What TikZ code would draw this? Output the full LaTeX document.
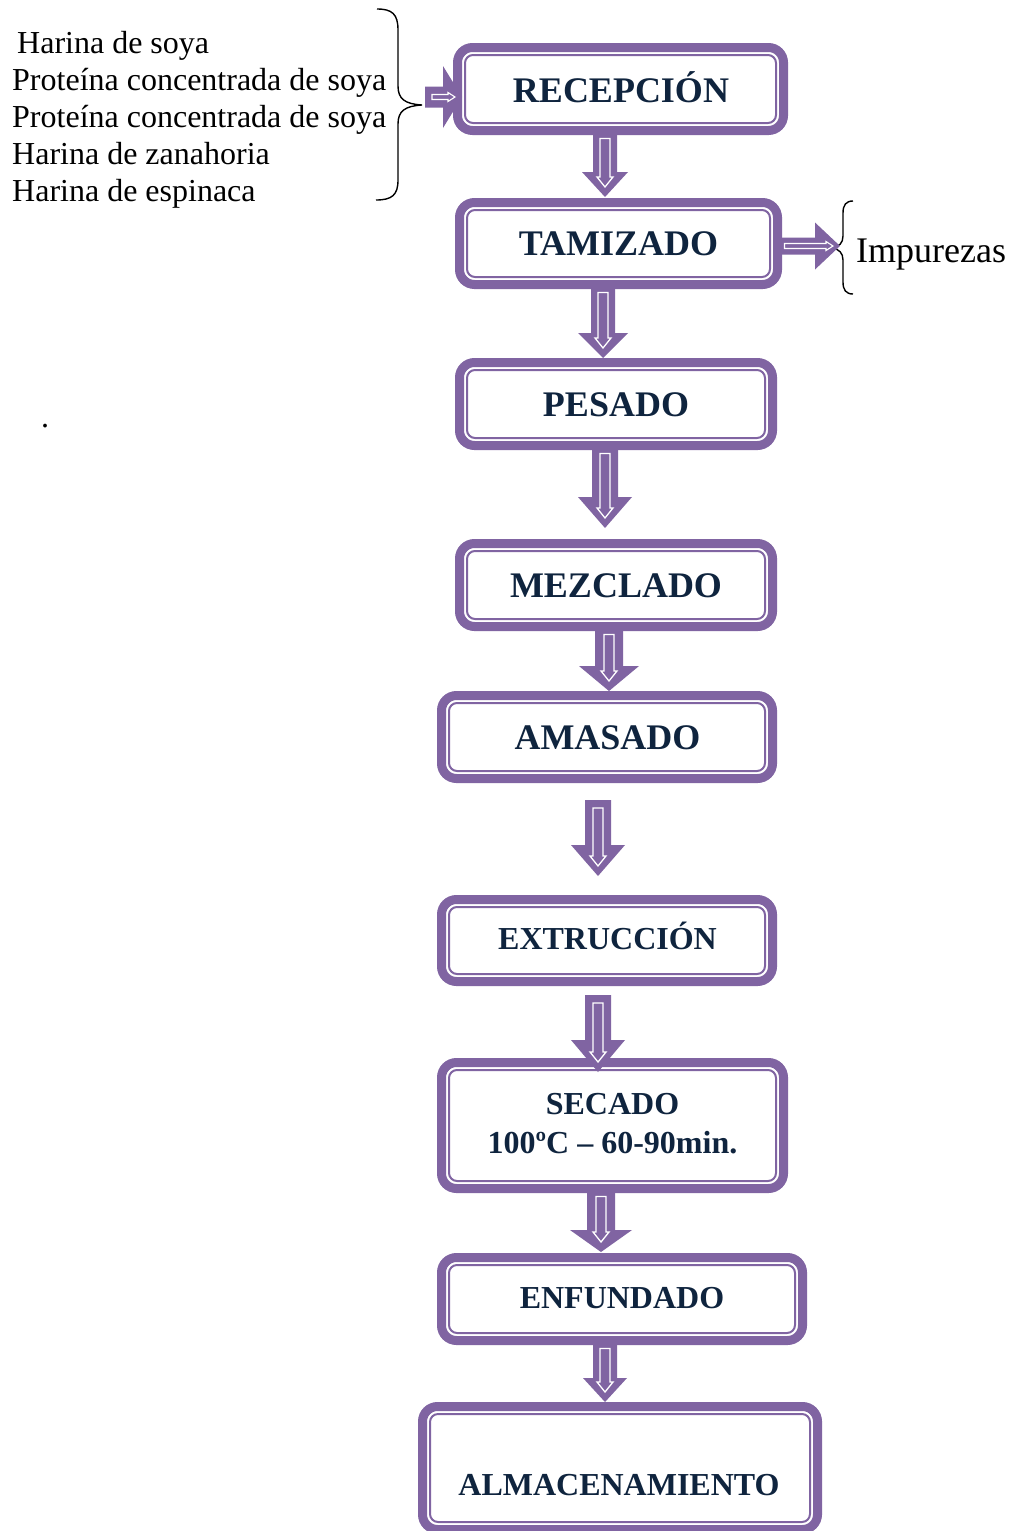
\documentclass[tikz,border=0pt]{standalone}
\usepackage{fontspec}
\setmainfont{Liberation Serif}
\usetikzlibrary{calc}

\definecolor{vio}{HTML}{8064A2}
\definecolor{navy}{HTML}{0F243E}

% Down-pointing block arrow with a thin white outline arrow inside.
% #1 axis x, #2 start anchor, #3 start offset (down), #4 end anchor,
% #5 tip offset (down), #6 shaft half width, #7 head half width, #8 head length
\newcommand\flowdown[8]{%
  \path[fill=vio] let \p3=(#1,0), \p1=(#2), \p2=(#4) in
    ({\x3-#6},{\y1-(#3)}) -- ({\x3-#6},{\y2-(#5)+#8}) -- ({\x3-#7},{\y2-(#5)+#8})
    -- ({\x3},{\y2-(#5)}) -- ({\x3+#7},{\y2-(#5)+#8}) -- ({\x3+#6},{\y2-(#5)+#8})
    -- ({\x3+#6},{\y1-(#3)}) -- cycle;
  \draw[white, line width=1.3pt, line join=miter] let \p3=(#1,0), \p1=(#2), \p2=(#4) in
    ({\x3-5},{\y1-(#3)-8}) -- ({\x3-5},{\y2-(#5)+20}) -- ({\x3-8},{\y2-(#5)+20})
    -- ({\x3},{\y2-(#5)+10}) -- ({\x3+8},{\y2-(#5)+20}) -- ({\x3+5},{\y2-(#5)+20})
    -- ({\x3+5},{\y1-(#3)-8}) -- cycle;
}
% Right-pointing block arrow, same idea.
% #1 axis y, #2 start anchor, #3 start offset (right), #4 end anchor,
% #5 tip offset (right), #6 shaft half height, #7 head half height, #8 head length
\newcommand\flowright[8]{%
  \path[fill=vio] let \p3=(0,#1), \p1=(#2), \p2=(#4) in
    ({\x1+(#3)},{\y3+#6}) -- ({\x2+(#5)-#8},{\y3+#6}) -- ({\x2+(#5)-#8},{\y3+#7})
    -- ({\x2+(#5)},{\y3}) -- ({\x2+(#5)-#8},{\y3-#7}) -- ({\x2+(#5)-#8},{\y3-#6})
    -- ({\x1+(#3)},{\y3-#6}) -- cycle;
  \draw[white, line width=1.1pt] let \p3=(0,#1), \p1=(#2), \p2=(#4) in
    ({\x1+(#3)+7},{\y3+2.5}) -- ({\x2+(#5)-14},{\y3+2.5}) -- ({\x2+(#5)-14},{\y3+4.5})
    -- ({\x2+(#5)-7},{\y3}) -- ({\x2+(#5)-14},{\y3-4.5}) -- ({\x2+(#5)-14},{\y3-2.5})
    -- ({\x1+(#3)+7},{\y3-2.5}) -- cycle;
}

\begin{document}
\begin{tikzpicture}[x=1pt,y=-1pt,
  stage/.style={draw=vio, line width=9pt, rounded corners=15pt,
    inner sep=0pt, outer sep=0pt},
  innerline/.style={draw=vio, line width=2pt, rounded corners=8pt},
  bigtext/.style={font=\bfseries\fontsize{36}{36}\selectfont, text=navy,
    inner sep=0pt, anchor=base},
  smalltext/.style={font=\bfseries\fontsize{32}{32}\selectfont, text=navy,
    inner sep=0pt, anchor=base},
  plain/.style={font=\fontsize{32}{37}\selectfont, inner sep=0pt, anchor=base west},
  brace/.style={draw=black, line width=1.4pt}]

\path[use as bounding box, fill=white] (0,0) rectangle (1010,1531);

% process stages
\node[stage, minimum width=326pt, minimum height=83pt] (b1) at (620.5,89) {};
\node[stage, minimum width=318pt, minimum height=82pt] (b2) at (618.5,243.5) {};
\node[stage, minimum width=313pt, minimum height=83pt] (b3) at (616,404) {};
\node[stage, minimum width=313pt, minimum height=83pt] (b4) at (616,585) {};
\node[stage, minimum width=331pt, minimum height=83pt] (b5) at (607,737) {};
\node[stage, minimum width=331pt, minimum height=82pt] (b6) at (607,940.5) {};
\node[stage, minimum width=342pt, minimum height=126pt] (b7) at (612.5,1125.5) {};
\node[stage, minimum width=361pt, minimum height=83pt] (b8) at (622,1299) {};
\node[stage, minimum width=395pt, minimum height=123pt] (b9) at (620,1468) {};

\foreach \n in {b1,b2,b3,b4,b5,b6,b7,b8,b9}
  \draw[innerline] ([shift={(7.5,7.5)}]\n.north west) rectangle ([shift={(-7.5,-7.5)}]\n.south east);

% stage labels
\node[bigtext] (t1) at (621,102) {RECEPCIÓN};
\node[bigtext] (t2) at (618.5,255) {TAMIZADO};
\node[bigtext] (t3) at (616,416) {PESADO};
\node[bigtext] (t4) at (616,597) {MEZCLADO};
\node[bigtext] (t5) at (607.5,749) {AMASADO};
\node[smalltext] (t6) at (607.5,949) {EXTRUCCIÓN};
\node[smalltext] (t7) at (612.5,1114) {SECADO};
\node[smalltext] (t7b) at (612.5,1153) {100ºC – 60-90min.};
\node[smalltext] (t8) at (622,1308) {ENFUNDADO};
\node[smalltext] (t9) at (619,1495) {ALMACENAMIENTO};

% flow between stages
\flowdown{605}{b1.south}{0}{b2.north}{-5.5}{12}{23}{25}
\flowdown{603}{b2.south}{0}{b3.north}{-4.5}{12}{25}{25}
\flowdown{605}{b3.south}{0}{b4.north}{-15.5}{13}{27}{31}
\flowdown{609}{b4.south}{0}{b5.north}{-4.5}{14}{30}{25}
\flowdown{598}{b5.south}{21.5}{b6.north}{-23.5}{13}{27}{31}
\flowdown{598}{b6.south}{13.5}{b7.north}{9.5}{13}{27}{32}
\flowdown{601}{b7.south}{0}{b8.north}{-5.5}{14}{31}{22}
\flowdown{605}{b8.south}{0}{b9.north}{-4.5}{12}{22}{24}

% raw materials
\node[plain] (m1) at (17,53) {Harina de soya};
\node[plain] (m2) at (12,90) {Proteína concentrada de soya};
\node[plain] (m3) at (12,127) {Proteína concentrada de soya};
\node[plain] (m4) at (12,164) {Harina de zanahoria};
\node[plain] (m5) at (12,201) {Harina de espinaca};
\node[plain] (dot) at (41,427) {.};

\coordinate (lb) at (422,105);
\draw[brace] (377,9) .. controls (392,9) and (398,14) .. (398,30) -- (398,86)
  .. controls (398,99) and (405,104) .. (lb)
  .. controls (405,106) and (398,111) .. (398,124) -- (398,180)
  .. controls (398,195) and (392,200) .. (376,200);
\flowright{97}{lb}{3}{b1.west}{4.5}{10.5}{31}{19}

% waste output
\coordinate (rb) at (832,248);
\draw[brace] (853,201) .. controls (846,201) and (843,205) .. (843,213) -- (843,236)
  .. controls (843,243) and (839,247) .. (rb)
  .. controls (839,249) and (843,253) .. (843,260) -- (843,282)
  .. controls (843,290) and (846,294) .. (853,294);
\flowright{246}{b2.east}{0}{rb}{8}{8.5}{23.5}{25}
\node[font=\fontsize{36}{36}\selectfont, inner sep=0pt, anchor=base west] (imp) at (856,262) {Impurezas};

\end{tikzpicture}
\end{document}
